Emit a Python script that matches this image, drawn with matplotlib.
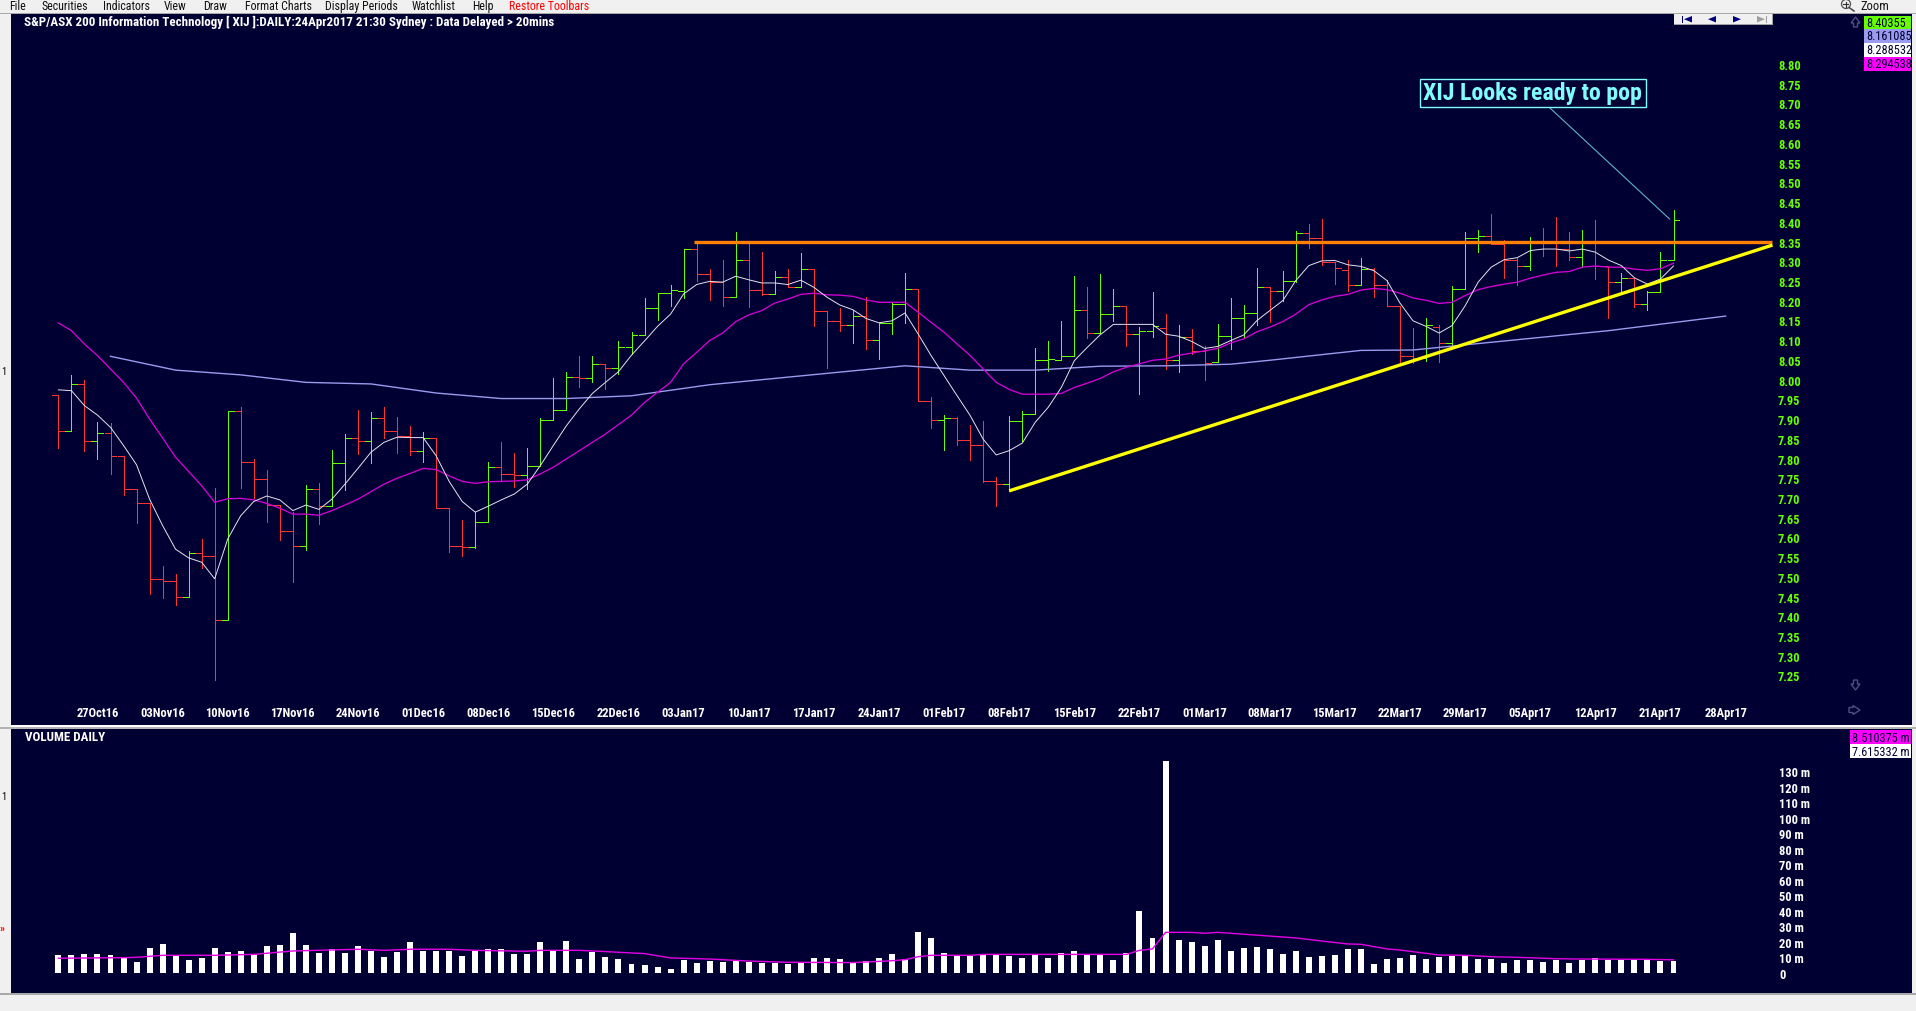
import matplotlib
matplotlib.use("Agg")
import matplotlib.pyplot as plt
from matplotlib.patches import Rectangle, Polygon, Circle
from matplotlib.lines import Line2D
from matplotlib.transforms import Affine2D
from matplotlib.ticker import FixedLocator, FixedFormatter, NullLocator

opens = [7.961,7.869,7.989,7.844,7.864,7.806,7.723,7.686,7.494,7.489,7.448,7.560,7.554,7.391,7.921,7.792,7.748,7.682,7.615,7.577,
 7.723,7.679,7.788,7.851,7.844,7.902,7.869,7.858,7.820,7.851,7.674,7.579,7.575,7.638,7.778,7.760,7.757,7.780,7.898,7.922,
 8.006,8.005,8.039,8.030,8.082,8.113,8.181,8.219,8.224,8.331,8.267,8.248,8.209,8.302,8.226,8.218,8.259,8.234,8.280,8.173,
 8.148,8.138,8.160,8.100,8.143,8.191,8.229,7.947,7.897,7.903,7.846,7.833,7.744,7.735,7.894,7.912,8.049,8.049,8.059,8.176,
 8.119,8.167,8.186,8.115,8.124,8.132,8.049,8.108,8.073,8.044,8.110,8.155,8.170,8.234,8.224,8.249,8.371,8.358,8.299,8.279,
 8.239,8.280,8.241,8.186,8.060,8.056,8.133,8.094,8.229,8.360,8.363,8.344,8.303,8.287,8.348,8.345,8.331,8.310,8.350,8.289,
 8.247,8.257,8.191,8.221,8.302]
highs = [7.961,8.012,7.999,7.892,7.890,7.806,7.723,7.686,7.527,7.507,7.565,7.596,7.724,7.921,7.930,7.798,7.771,7.682,7.664,7.733,
 7.738,7.822,7.861,7.923,7.917,7.930,7.904,7.882,7.866,7.851,7.674,7.643,7.664,7.790,7.841,7.813,7.827,7.903,8.003,8.018,
 8.059,8.059,8.040,8.097,8.120,8.207,8.219,8.240,8.331,8.348,8.280,8.302,8.373,8.352,8.323,8.276,8.280,8.321,8.281,8.173,
 8.182,8.176,8.209,8.144,8.196,8.270,8.229,7.956,7.910,7.904,7.885,7.895,7.752,7.907,7.920,8.079,8.097,8.149,8.263,8.235,
 8.268,8.230,8.186,8.133,8.221,8.166,8.138,8.128,8.086,8.141,8.207,8.189,8.283,8.234,8.275,8.376,8.394,8.407,8.299,8.304,
 8.308,8.283,8.252,8.186,8.130,8.156,8.138,8.236,8.374,8.379,8.420,8.354,8.307,8.361,8.384,8.411,8.373,8.379,8.405,8.289,
 8.270,8.257,8.224,8.323,8.430]
lows = [7.826,7.869,7.820,7.799,7.761,7.708,7.637,7.457,7.446,7.429,7.448,7.522,7.239,7.391,7.726,7.700,7.640,7.594,7.488,7.569,
 7.635,7.679,7.721,7.811,7.789,7.852,7.814,7.810,7.792,7.674,7.564,7.554,7.572,7.638,7.743,7.729,7.723,7.780,7.898,7.922,
 7.982,7.993,7.976,8.014,8.065,8.113,8.152,8.186,8.206,8.251,8.202,8.187,8.209,8.185,8.215,8.218,8.234,8.234,8.137,8.029,
 8.124,8.093,8.078,8.052,8.116,8.144,7.947,7.877,7.822,7.833,7.795,7.740,7.680,7.718,7.845,7.912,8.023,8.049,8.059,8.105,
 8.119,8.149,8.084,7.964,8.109,8.027,8.020,8.065,7.999,8.044,8.078,8.105,8.139,8.147,8.200,8.247,8.334,8.291,8.242,8.225,
 8.239,8.210,8.186,8.038,8.041,8.048,8.044,8.082,8.229,8.323,8.344,8.258,8.241,8.278,8.314,8.289,8.304,8.285,8.255,8.155,
 8.225,8.183,8.177,8.221,8.302]
closes = [7.869,7.989,7.844,7.864,7.806,7.723,7.686,7.494,7.489,7.448,7.560,7.554,7.391,7.921,7.792,7.748,7.682,7.615,7.577,7.723,
 7.679,7.788,7.851,7.844,7.902,7.869,7.858,7.820,7.851,7.674,7.579,7.575,7.638,7.778,7.760,7.757,7.780,7.898,7.922,8.006,
 8.005,8.039,8.030,8.082,8.113,8.181,8.219,8.228,8.331,8.267,8.248,8.209,8.302,8.226,8.218,8.259,8.234,8.280,8.173,8.148,
 8.138,8.160,8.100,8.143,8.191,8.229,7.947,7.897,7.903,7.846,7.833,7.744,7.735,7.894,7.912,8.049,8.051,8.059,8.176,8.119,
 8.167,8.186,8.115,8.124,8.135,8.049,8.108,8.073,8.041,8.110,8.155,8.170,8.234,8.224,8.249,8.371,8.358,8.299,8.282,8.239,
 8.280,8.241,8.186,8.060,8.056,8.138,8.094,8.229,8.360,8.363,8.344,8.303,8.287,8.348,8.345,8.331,8.310,8.350,8.289,8.247,
 8.257,8.191,8.221,8.302,8.404]
ma_white = [7.974,7.972,7.934,7.910,7.879,7.833,7.784,7.697,7.630,7.570,7.548,7.537,7.495,7.596,7.655,7.691,7.705,7.695,7.668,7.682,
 7.671,7.697,7.735,7.775,7.816,7.841,7.854,7.853,7.853,7.807,7.742,7.691,7.664,7.679,7.695,7.710,7.735,7.782,7.833,7.883,
 7.926,7.965,7.993,8.020,8.062,8.098,8.135,8.166,8.217,8.241,8.249,8.247,8.262,8.253,8.245,8.245,8.241,8.252,8.234,8.209,
 8.189,8.177,8.155,8.144,8.149,8.169,8.116,8.061,8.010,7.959,7.909,7.849,7.809,7.820,7.839,7.892,7.930,7.980,8.048,8.082,
 8.114,8.140,8.140,8.140,8.140,8.115,8.110,8.097,8.079,8.084,8.099,8.113,8.149,8.175,8.200,8.251,8.289,8.301,8.302,8.291,
 8.287,8.276,8.251,8.194,8.149,8.135,8.118,8.137,8.187,8.247,8.285,8.304,8.309,8.327,8.331,8.331,8.326,8.331,8.323,8.303,
 8.289,8.258,8.242,8.255,8.288]
ma_magenta = [8.1435,8.124,8.090,8.061,8.027,7.993,7.953,7.900,7.852,7.803,7.767,7.731,7.689,7.698,7.699,7.695,7.686,7.674,7.659,7.659,
 7.656,7.668,7.682,7.697,7.716,7.735,7.750,7.762,7.775,7.772,7.756,7.742,7.737,7.741,7.742,7.743,7.746,7.761,7.778,7.799,
 7.820,7.841,7.862,7.886,7.910,7.942,7.968,7.993,8.040,8.069,8.099,8.118,8.147,8.164,8.175,8.194,8.204,8.216,8.219,8.215,
 8.214,8.211,8.202,8.196,8.196,8.196,8.171,8.145,8.120,8.090,8.061,8.027,7.993,7.975,7.963,7.963,7.963,7.965,7.980,7.991,
 8.003,8.020,8.031,8.040,8.049,8.052,8.062,8.067,8.073,8.079,8.093,8.103,8.121,8.133,8.147,8.166,8.190,8.202,8.211,8.216,
 8.227,8.231,8.228,8.219,8.207,8.201,8.193,8.196,8.213,8.228,8.236,8.242,8.247,8.257,8.265,8.272,8.274,8.285,8.288,8.285,
 8.285,8.280,8.277,8.281,8.295]
ma_blue_idx = [4,9,14,19,24,29,34,39,44,50,65,70,75,80,85,90,93,100,104,119,128]
ma_blue = [8.059,8.024,8.012,7.993,7.989,7.966,7.952,7.952,7.959,7.987,8.035,8.024,8.024,8.034,8.035,8.039,8.049,8.074,8.075,8.124,8.161]
volumes = [11.6,11.6,12.2,12.2,11.6,9.7,7.3,16.1,18.7,11.0,8.4,9.7,16.1,13.5,14.2,11.6,17.4,18.0,25.8,18.0,
 12.9,15.5,12.9,17.4,14.2,10.3,13.5,20.0,14.2,14.2,14.2,11.0,14.2,15.5,15.5,12.2,12.2,20.0,14.2,20.6,
 9.0,13.5,10.3,9.0,5.8,5.2,3.9,2.6,8.4,6.4,7.7,7.1,7.7,7.1,6.4,6.4,5.8,6.4,9.7,9.7,
 9.0,6.4,7.7,9.7,12.2,9.0,26.4,22.6,12.9,11.0,11.0,11.6,11.6,11.0,9.7,11.6,9.7,12.9,14.2,11.6,
 11.6,8.4,12.9,40.0,22.6,136.6,21.3,20.0,17.4,21.3,14.2,16.1,16.8,15.5,12.2,14.2,10.3,11.0,11.6,15.5,
 15.5,5.8,9.0,9.7,11.6,9.0,10.3,11.0,11.0,9.0,9.0,6.4,8.4,8.4,7.1,8.4,6.4,8.4,9.7,8.4,
 8.4,8.4,8.4,7.7,7.6]
vol_ma_idx = [0,5,6,8,12,15,18,23,25,27,30,32,36,37,40,42,45,47,50,53,56,61,64,65,66,67,70,71,82,83,84,85,87,88,89,95,97,99,100,102,103,106,108,110,112,115,117,122,124]
vol_ma = [9.5,9.9,10.1,11.4,11.4,12.0,14.2,15.3,14.6,15.3,15.3,14.6,14.0,14.6,14.6,13.8,12.5,9.7,9.0,7.7,6.9,6.7,7.9,8.6,10.5,11.4,11.4,12.0,12.0,14.6,15.5,26.2,26.2,25.6,26.2,22.6,20.6,18.7,18.5,15.5,14.8,11.6,11.4,10.5,10.1,9.2,9.0,8.8,8.5]
date_labels = ["27Oct16","03Nov16","10Nov16","17Nov16","24Nov16","01Dec16","08Dec16","15Dec16","22Dec16","03Jan17","10Jan17","17Jan17","24Jan17",
 "01Feb17","08Feb17","15Feb17","22Feb17","01Mar17","08Mar17","15Mar17","22Mar17","29Mar17","05Apr17","12Apr17","21Apr17","28Apr17"]
date_pos = [3 + 5*k for k in range(len(date_labels))]
price_ticks = [7.25,7.30,7.35,7.40,7.45,7.50,7.55,7.60,7.65,7.70,7.75,7.80,7.85,7.90,7.95,8.00,8.05,8.10,8.15,8.20,8.25,8.30,8.35,8.40,8.45,8.50,8.55,8.60,8.65,8.70,8.75,8.80]
vol_ticks = list(range(0, 140, 10))
menu_items = ["File","Securities","Indicators","View","Draw","Format Charts","Display Periods","Watchlist","Help","Restore Toolbars"]
price_boxes = ["8.40355","8.161085","8.288532","8.294538"]
vol_boxes = ["8.510375 m","7.615332 m"]
resistance = 8.348
support_x = [73, 131.6]
support_y = [7.718, 8.341]

W, H = 1916, 1012
NAVY = "#000033"; GREEN = "#66ff00"; RED = "#ff3333"; CHROME = "#f0f0f0"
plt.rcParams['font.family'] = ['Roboto Condensed', 'DejaVu Sans']
fig = plt.figure(figsize=(W/100, H/100), dpi=100, facecolor=CHROME)
px = Affine2D().scale(1/W, -1/H).translate(0, 1) + fig.transFigure

def axes_px(x0, y0, x1, y1):
    a = fig.add_axes([x0/W, 1-y1/H, (x1-x0)/W, (y1-y0)/H], facecolor=NAVY)
    for s in a.spines.values():
        s.set_visible(False)
    return a

X0, DX = 58.4, 13.025
L, R = 11, 1912
xlim = ((L-X0)/DX, (R-X0)/DX)
ONE = 0.72

# ---- price panel
ax = axes_px(L, 15, R, 726)
ax.set_xlim(*xlim)
ax.set_ylim(8.80-(726-65)/394.5, 8.80+(65-15)/394.5)
n = len(closes)
for name, s in [("o",opens),("h",highs),("l",lows),("w",ma_white),("m",ma_magenta),("v",volumes)]:
    assert len(s) == n, (name, len(s))
for i in range(n):
    c = GREEN if closes[i] > opens[i] else RED
    ax.vlines(i, lows[i], highs[i], color=c, lw=ONE, zorder=2, antialiased=False)
    ax.hlines(opens[i], i-0.46, i, color=c, lw=ONE, zorder=2, antialiased=False)
    ax.hlines(closes[i], i, i+0.46, color=c, lw=ONE, zorder=2, antialiased=False)
ax.plot(ma_blue_idx, ma_blue, color="#9a9aee", lw=1.0, zorder=3)
ax.plot(range(n), ma_magenta, color="#d400d4", lw=0.95, zorder=3)
ax.plot(range(n), ma_white, color="#e4e4ee", lw=0.7, zorder=4)
ax.plot([48.8, 131.6], [resistance, resistance], color="#ff8000", lw=2.4, zorder=5, solid_capstyle='butt')
ax.plot(support_x, support_y, color="#ffff00", lw=2.4, zorder=5, solid_capstyle='butt')
# annotation
ax.plot([114.4, 123.7], [8.692, 8.407], color="#5fb4c8", lw=0.8, zorder=6)
ax.add_patch(Rectangle((104.5, 8.692), 17.4, 0.069, fc=NAVY, ec="#7ffcfc", lw=1.0, zorder=6))
ax.text(113.2, 8.7265, "XIJ Looks ready to pop", color="#7ffcfc", fontsize=17.2, fontweight='bold',
        ha='center', va='center', zorder=7)
ax.yaxis.tick_right()
ax.yaxis.set_major_locator(FixedLocator(price_ticks))
ax.yaxis.set_major_formatter(FixedFormatter([f"{t:.2f}" for t in price_ticks]))
ax.tick_params(axis='y', length=0, pad=-(R-1778)*0.72, labelsize=9, labelcolor=GREEN)
ax.set_xticks(date_pos, date_labels)
ax.tick_params(axis='x', length=0, pad=-(726-707)*0.72, labelsize=9, labelcolor="white")
for t in ax.get_xticklabels() + ax.get_yticklabels():
    t.set_fontweight('bold')

# ---- volume panel
vx = axes_px(L, 730, R, 994)
vx.set_xlim(*xlim)
vx.set_ylim(-(994-974)/1.5515, (974-730)/1.5515)
vx.bar(range(n), volumes, width=0.46, color="white", zorder=2)
vx.plot(vol_ma_idx, vol_ma, color="#e600e6", lw=1.0, zorder=3)
vx.xaxis.set_major_locator(NullLocator())
vx.yaxis.tick_right()
vx.yaxis.set_major_locator(FixedLocator(vol_ticks))
vx.yaxis.set_major_formatter(FixedFormatter(["0" if t == 0 else f"{t} m" for t in vol_ticks]))
vx.tick_params(axis='y', length=0, pad=-(R-1779)*0.72, labelsize=9, labelcolor="white")
for t in vx.get_yticklabels():
    t.set_fontweight('bold')

# ---- window chrome, drawn in pixel coordinates
def rect(x0, y0, x1, y1, color, z=10):
    fig.add_artist(Rectangle((x0, y0), x1-x0, y1-y0, fc=color, ec='none', transform=px, zorder=z))
def poly(pts, fc='none', ec='none', lw=1.0, z=11):
    fig.add_artist(Polygon(pts, closed=True, fc=fc, ec=ec, lw=lw, transform=px, zorder=z))
def label(x, y, s, color="black", size=9, weight='normal', ha='left'):
    return fig.text(x/W, 1-y/H, s, color=color, fontsize=size, fontweight=weight, ha=ha, va='center', zorder=12)

rect(0, 13.5, W, 15, "#a8a8a8")
rect(L, 726, R, 727.5, "#ffffff")
rect(0, 727.5, W, 729.5, "#b4b4b4")
rect(0, 994, W, 996, "#a8a8a8")

menu_x = [9, 41, 103, 164, 203, 245, 325, 412, 472, 509]
for x, m in zip(menu_x, menu_items):
    label(x, 6.5, m, color="red" if m.startswith("Restore") else "#101010", size=8.6)

label(24.5, 22, "S&P/ASX 200 Information Technology [ XIJ ]:DAILY:24Apr2017 21:30 Sydney : Data Delayed > 20mins",
      color="white", size=9.4, weight='bold')
label(25, 737.5, "VOLUME DAILY", color="white", size=9.4, weight='bold')
label(1, 372, "1", size=7.5)
label(1, 797, "1", size=7.5)
label(0, 929, "\u00bb", color="red", size=8, weight='bold')

# zoom control
fig.add_artist(Circle((1846, 5), 4.5, fc="none", ec="#505050", lw=0.9, transform=px, zorder=11))
fig.add_artist(Line2D([1843.5, 1848.5], [5, 5], color="#303030", lw=0.8, transform=px, zorder=11))
fig.add_artist(Line2D([1846, 1846], [2.5, 7.5], color="#303030", lw=0.8, transform=px, zorder=11))
fig.add_artist(Line2D([1849, 1854], [8.5, 12], color="#505050", lw=1.2, transform=px, zorder=11))
label(1860, 6.5, "Zoom", color="#101010", size=9)

# navigator
rect(1674, 15, 1773.5, 25.5, "#a0a0a0")
rect(1674, 15, 1772.5, 24.5, "#f0f0f0", z=10.5)
NB = "#000080"
rect(1682, 17, 1683, 23.5, NB, z=11)
poly([(1692, 17), (1692, 23.5), (1684, 20.2)], fc=NB)
poly([(1716, 17), (1716, 23.5), (1708, 20.2)], fc=NB)
poly([(1733, 17), (1733, 23.5), (1741, 20.2)], fc=NB)
poly([(1757, 17), (1757, 23.5), (1765, 20.2)], fc="#a0a0a0")
rect(1766, 17, 1767, 23.5, "#a0a0a0", z=11)

# outlined arrows
OUT = "#50507c"
poly([(1855.5, 18), (1860, 24), (1857.5, 24), (1857.5, 28), (1853.5, 28), (1853.5, 24), (1851, 24)], ec=OUT)
poly([(1855.5, 691), (1860, 685), (1857.5, 685), (1857.5, 681), (1853.5, 681), (1853.5, 685), (1851, 685)], ec=OUT)
poly([(1860, 711), (1853, 706.5), (1853, 708.5), (1849, 708.5), (1849, 713.5), (1853, 713.5), (1853, 715.5)], ec=OUT)

# value boxes
box_colors = ["#66ff00", "#9a9aee", "#ffffff", "#ff00ff"]
box_y = [16.5, 30, 44, 58, 72]
for k, (s, col) in enumerate(zip(price_boxes, box_colors)):
    rect(1864, box_y[k], 1911, box_y[k+1], col)
    label(1866, (box_y[k]+box_y[k+1])/2, s, color="#000033", size=8.8)
for k, (s, col) in enumerate(zip(vol_boxes, ["#ff00ff", "#ffffff"])):
    rect(1850, 731+14*k, 1911, 745+14*k, col)
    label(1852.5, 738+14*k, s, color="#000033", size=8.8)

fig.savefig("out.png", dpi=100, facecolor=CHROME)
